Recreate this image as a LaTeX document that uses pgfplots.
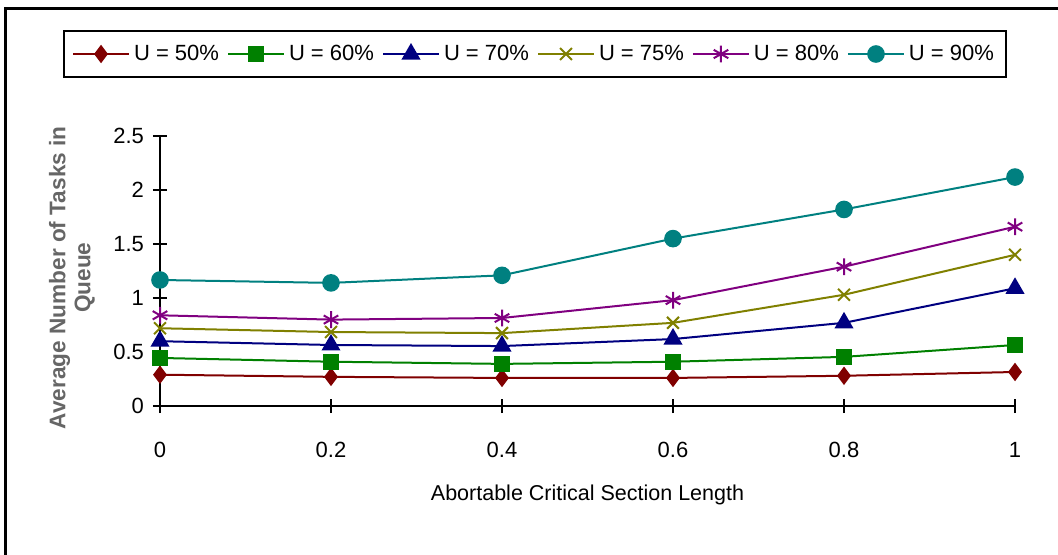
\documentclass[border=0pt]{standalone}
\usepackage{pgfplots}
\pgfplotsset{compat=1.18}
\usepackage{fontspec}
\setmainfont{Liberation Sans}
\definecolor{cA}{HTML}{800000}
\definecolor{cB}{HTML}{008000}
\definecolor{cC}{HTML}{000080}
\definecolor{cD}{HTML}{808000}
\definecolor{cE}{HTML}{800080}
\definecolor{cF}{HTML}{008080}
\begin{document}
\begin{tikzpicture}
\useasboundingbox (0,0) rectangle (529pt,277pt);
\draw[line width=1.5pt] (2.75pt,-2pt) -- (2.75pt,273pt) -- (531pt,273pt);
\begin{axis}[
  at={(80pt,74pt)}, anchor=origin,
  scale only axis, width=427.5pt, height=135pt,
  xmin=0, xmax=1, ymin=0, ymax=2.5,
  axis lines*=left,
  axis line style={line width=1.2pt},
  clip=false,
  xtick={0,0.2,0.4,0.6,0.8,1},
  ytick={0,0.5,1,1.5,2,2.5},
  tick align=center,
  major tick length=7pt,
  every tick/.style={black, line width=1pt},
  /pgf/number format/assume math mode=true,
  tick label style={font=\fontsize{11}{13}\selectfont},
  xticklabel style={yshift=-11pt},
  yticklabel style={xshift=-1pt},
  xlabel={Abortable Critical Section Length},
  xlabel style={at={(axis cs:0.5,0)}, anchor=center, yshift=-44.5pt, font=\fontsize{10.75}{13}\selectfont},
  ylabel={Average Number of Tasks in\\Queue},
  ylabel style={at={(axis description cs:-0.1029,0.475)}, anchor=center, align=center, font=\fontsize{11.3}{12.5}\selectfont\bfseries, text=black!60},
  legend columns=6,
  legend style={at={(0.4386,1.3037)}, anchor=center, draw=black, line width=1.1pt,
    font=\fontsize{11}{13}\selectfont, inner xsep=4pt, inner ysep=5pt,
    /tikz/every even column/.append style={column sep=2pt}},
  legend image code/.code={\draw[line width=1pt, mark repeat=2,mark phase=2,#1] plot coordinates {(0pt,0pt) (14pt,0pt) (28pt,0pt)};},
  every axis plot/.append style={line width=1pt},
]
\addplot[cA, mark=diamond*, mark size=3.8pt, mark options={solid, fill=cA}] coordinates {(0,0.29) (0.2,0.27) (0.4,0.26) (0.6,0.26) (0.8,0.28) (1,0.315)};
\addlegendentry{U = 50\%}
\addplot[cB, mark=square*, mark size=3.5pt, mark options={fill=cB}] coordinates {(0,0.445) (0.2,0.41) (0.4,0.39) (0.6,0.41) (0.8,0.455) (1,0.565)};
\addlegendentry{U = 60\%}
\addplot[cC, mark=triangle*, mark size=4.5pt, mark options={fill=cC}] coordinates {(0,0.60) (0.2,0.565) (0.4,0.555) (0.6,0.62) (0.8,0.77) (1,1.09)};
\addlegendentry{U = 70\%}
\addplot[cD, mark=x, mark size=4.2pt] coordinates {(0,0.72) (0.2,0.685) (0.4,0.675) (0.6,0.77) (0.8,1.03) (1,1.40)};
\addlegendentry{U = 75\%}
\addplot[cE, mark=asterisk, mark size=4.2pt] coordinates {(0,0.84) (0.2,0.80) (0.4,0.815) (0.6,0.98) (0.8,1.29) (1,1.66)};
\addlegendentry{U = 80\%}
\addplot[cF, mark=*, mark size=3.9pt, mark options={fill=cF}] coordinates {(0,1.167) (0.2,1.14) (0.4,1.21) (0.6,1.55) (0.8,1.82) (1,2.12)};
\addlegendentry{U = 90\%}
\end{axis}
\end{tikzpicture}
\end{document}
